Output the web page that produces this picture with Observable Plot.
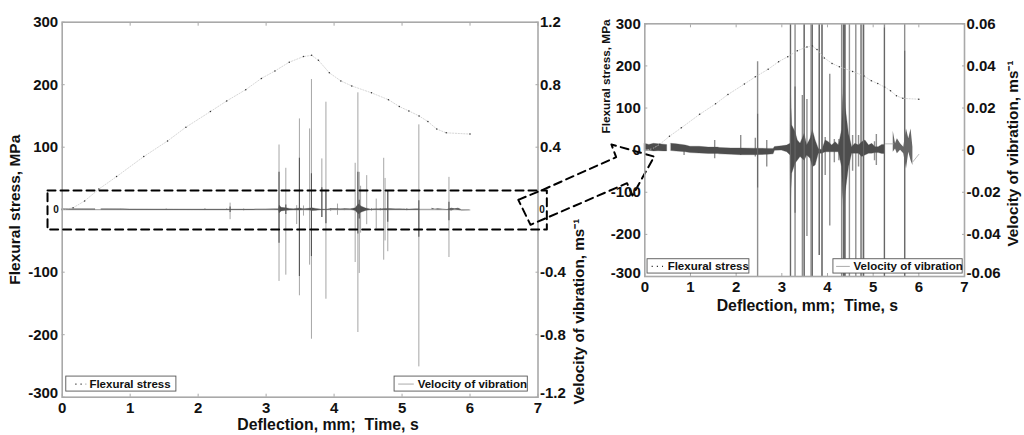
<!DOCTYPE html>
<html><head><meta charset="utf-8">
<script src="https://cdn.jsdelivr.net/npm/d3@7"></script>
<script src="https://cdn.jsdelivr.net/npm/@observablehq/plot@0.6"></script>
<style>
html,body{margin:0;background:#fff;overflow:hidden}
#wrap{position:relative;width:1024px;height:435px}
#wrap svg{position:absolute;left:0;top:0;background:transparent}
</style></head><body><div id="wrap"></div>
<script>
// Flexural stress (MPa) against deflection
const stressT=[0,.16,.33,.54,.80,1.20,1.55,1.82,2.18,2.42,2.70,2.93,3.13,3.34,3.55,3.67,3.77,3.93,4.10,4.26,4.55,4.80,4.96,5.10,5.25,5.38,5.51,5.65,6.0];
const stressV=[0,3,14,33,53,85,110,132,157,174,192,210,222,236,245,247,239,219,206,198,187,176,165,158,150,141,129,123,121];
// Vibration spikes (m/s): full extent
const spikeT=[.86,1.53,2.1,2.42,2.47,2.67,3.19,3.29,3.45,3.49,3.55,3.64,3.667,3.82,3.88,3.95,4.05,4.15,4.25,4.31,4.35,4.37,4.39,4.48,4.55,4.62,4.68,4.73,4.75,4.79,5.03,5.07,5.247,5.69];
const spikeUp=[.0022,.0046,.007,.0057,.042,.0046,.414,.265,.026,.581,.024,.517,.833,.325,.688,.006,.036,.005,.005,.297,.748,.239,.15,.218,.007,.068,.007,.329,.2,.122,.004,.0074,.543,.207];
const spikeDown=[-.0025,-.0041,-.0025,-.0033,-.064,-.008,-.459,-.419,-.095,-.551,-.041,-.355,-.829,-.05,-.573,-.012,-.036,-.006,-.005,-.338,-.786,-.408,-.15,-.096,-.01,-.124,-.008,-.323,-.2,-.269,-.005,-.0073,-1.006,-.306];
// Darker core of the strongest spikes
const coreT=[2.47,3.19,3.29,3.49,3.667,3.82,3.88,4.35,4.37,4.79,5.247,5.69];
const coreUp=[.017,.239,.03,.329,.23,.14,.12,.239,.06,.12,.058,.047];
const coreDown=[-.018,-.214,-.03,-.427,-.30,-.05,-.09,-.156,-.06,-.08,-.177,-.07];
// Envelope of the continuous vibration signal (NaN marks the break in the trace)
const bandT=[0,.1,.2,.3,.42,.49,.53,.58,.7,.9,1.0,1.2,1.4,1.6,1.65,1.9,2.1,2.4,2.7,2.82,2.85,3.0,3.117,3.19,3.2,3.227,3.30,3.35,3.41,3.50,3.555,3.63,3.68,3.74,3.81,3.885,3.96,4.03,4.10,4.18,4.25,4.32,4.34,4.37,4.40,4.47,4.54,4.61,4.69,4.76,4.83,4.91,4.98,5.05,5.12,5.2,5.26];
const bandHi=[.003,.0025,.003,.0028,.0026,.0024,NaN,.003,.0028,.0022,.0016,.0016,.0012,.0012,.001,.0008,.0008,.0007,.0006,.0006,.0015,.0018,.0022,.003,.027,.0117,.0085,.0046,.003,.0077,.0022,.0054,.0095,.0046,.0006,0,.0046,.0038,.0022,.0038,.0022,.0095,.022,.035,.02,.0077,.0014,.003,.0022,.0038,.0046,.0022,.003,.0014,.0014,.0025,.0025];
const bandLo=[-.0004,-.0003,-.0006,-.0005,-.0006,-.0006,NaN,-.0004,-.0007,-.001,-.0014,-.0016,-.0018,-.0018,-.002,-.0022,-.0024,-.0024,-.0022,-.002,-.0003,-.0002,-.001,-.0025,-.024,-.0112,-.0065,-.005,-.0033,-.005,-.0025,-.0041,-.0081,-.0073,-.0017,-.0017,-.001,-.001,-.001,-.001,-.001,-.0081,-.02,-.03,-.02,-.0081,-.0017,-.0017,-.0017,-.0033,-.0025,-.0017,-.0017,-.0014,-.0014,-.0018,-.0018];
const tailT=[5.44,5.49,5.53,5.6,5.67,5.73,5.78,5.83,5.87];
const tailHi=[.009,.003,.0054,.003,.0014,.010,.0054,.010,.0014];
const tailLo=[-.001,.0006,-.0017,0,-.0017,-.0089,-.001,-.005,-.0073];
const linkT=[5.27,5.44], linkV=[.003,.003];
const endT=[5.87,6.0], endV=[-.0055,-.002];
// Labels
const xTicks=[0,1,2,3,4,5,6,7];
const stressTicksLeft=[-300,-200,-100,100,200,300];
const stressTicksRight=[-300,-200,-100,0,100,200,300];
const xTitle="Deflection, mm;\u00a0\u00a0Time, s", yTitle="Flexural stress, MPa", vTitle="Velocity of vibration, ms\u207b\u00b9";
const names=["Flexural stress","Velocity of vibration"];
// Zoom outline and arrow, in the units of the main panel's axes
const boxX=[-.216,7.13,7.13,-.216,-.216], boxY=[30.7,30.7,-31.7,-31.7,30.7];
const arrowX=[6.71,7.07,8.15,8.08,8.71,8.39,8.31,6.89,6.71];
const arrowY=[15.8,31.8,84,104.3,85,22.7,42.4,-24.2,15.8];

const idx=a=>a.map((_,i)=>i);
const font={fontFamily:"'Liberation Sans',Arial,sans-serif",fontWeight:"bold",fontSize:"14.5px",color:"#111",background:"transparent"};
const spine="#a9a9a9";

function panel(o){
  const k=o.k, clip=o.clip, L=o.legend, T=o.titles;
  const lowLabel=o.rf(-300);
  return Plot.plot({
    width:1024,height:435,
    marginLeft:o.ml,marginRight:1024-o.xr,marginTop:o.mt,marginBottom:435-o.yb,
    x:{domain:[0,7]},y:{domain:[-300,300]},
    style:font,
    marks:[
      ...(o.base?[Plot.ruleY([0],{x1:0,x2:6,stroke:"#999",strokeWidth:o.base})]:[]),
      Plot.ruleX(idx(spikeT),{x:i=>spikeT[i],y1:i=>spikeDown[i]*k,y2:i=>spikeUp[i]*k,stroke:o.light,strokeWidth:o.sw,clip}),
      Plot.areaY(idx(bandT),{x:i=>bandT[i],y1:i=>bandLo[i]*k,y2:i=>bandHi[i]*k,fill:"#4d4d4d",stroke:"#4d4d4d",strokeWidth:.3,curve:"linear"}),
      Plot.areaY(idx(tailT),{x:i=>tailT[i],y1:i=>tailLo[i]*k,y2:i=>tailHi[i]*k,fill:"#666",curve:"linear"}),
      Plot.line(idx(linkT),{x:i=>linkT[i],y:i=>linkV[i]*k,stroke:"#aaa",strokeWidth:.8}),
      Plot.line(idx(endT),{x:i=>endT[i],y:i=>endV[i]*k,stroke:"#aaa",strokeWidth:.8}),
      Plot.ruleX(idx(coreT),{x:i=>coreT[i],y1:i=>coreDown[i]*k,y2:i=>coreUp[i]*k,stroke:o.core,strokeWidth:1.1,clip}),
      Plot.line(idx(stressT),{x:i=>stressT[i],y:i=>stressV[i],stroke:"#c4c4c4",strokeWidth:.7,strokeDasharray:"1.2,1.6"}),
      Plot.dot(idx(stressT),{x:i=>stressT[i],y:i=>stressV[i],r:.75,fill:"#333"}),
      Plot.frame({stroke:spine,strokeWidth:1.6}),
      Plot.axisX({anchor:"bottom",ticks:xTicks,tickFormat:d=>String(d),tickSize:-3,tickPadding:8,stroke:spine,fontSize:15,label:null}),
      Plot.axisX({anchor:"top",ticks:xTicks,tickSize:-3,tickFormat:()=>"",stroke:spine,label:null}),
      Plot.axisY({anchor:"left",ticks:o.lt,tickFormat:d=>d===-300?"":String(d),tickSize:-3,tickPadding:7,stroke:spine,fontSize:15,label:null}),
      Plot.axisY({anchor:"right",ticks:o.lt,tickSize:-3,tickPadding:5,stroke:spine,fontSize:15,tickFormat:d=>d===-300?"":o.rf(d),label:null}),
      Plot.text([-300],{x:0,y:-300,dx:-4,dy:o.lowDy,text:d=>String(d),textAnchor:"end",fontSize:15,fontWeight:"bold"}),
      Plot.text([lowLabel],{x:7,y:-300,dx:2,dy:o.lowDy,text:d=>d,textAnchor:"start",fontSize:15,fontWeight:"bold"}),
      Plot.text([xTitle],{x:T.xx,y:T.xy,text:d=>d,fontSize:15.8,fontWeight:"bold"}),
      Plot.text([yTitle],{x:T.yx,y:T.yy,rotate:-90,text:d=>d,fontSize:T.ys,fontWeight:"bold"}),
      Plot.text([vTitle],{x:T.vx,y:T.vy,rotate:-90,text:d=>d,fontSize:15.3,fontWeight:"bold"}),
      ...(o.extra||[]),
      Plot.rect([0],{x1:L.ax1,x2:L.ax2,y1:L.y1,y2:L.y2,fill:"#fff",stroke:"#555",strokeWidth:.9}),
      Plot.rect([0],{x1:L.bx1,x2:L.bx2,y1:L.y1,y2:L.y2,fill:"#fff",stroke:"#555",strokeWidth:.9}),
      Plot.ruleY([L.yc],{x1:L.as1,x2:L.as2,stroke:"#333",strokeWidth:1.1,strokeDasharray:"1.2,4"}),
      Plot.ruleY([L.yc],{x1:L.bs1,x2:L.bs2,stroke:"#aaa",strokeWidth:1}),
      Plot.text([names[0]],{x:L.at,y:L.yc,text:d=>d,textAnchor:"start",fontSize:11.5,fontWeight:"bold"}),
      Plot.text([names[1]],{x:L.bt,y:L.yc,text:d=>d,textAnchor:"start",fontSize:11.5,fontWeight:"bold"})
    ]
  });
}
const mainExtra=[
  Plot.text([0],{x:-.09,y:0,text:d=>String(d),fontSize:10,fontWeight:"bold",textAnchor:"middle"}),
  Plot.text([0],{x:7.06,y:0,text:d=>String(d),fontSize:10,fontWeight:"bold",textAnchor:"middle"}),
  Plot.line(idx(boxX),{x:i=>boxX[i],y:i=>boxY[i],stroke:"#000",strokeWidth:2,strokeDasharray:"8,5"}),
  Plot.line(idx(arrowX),{x:i=>arrowX[i],y:i=>arrowY[i],stroke:"#000",strokeWidth:2,strokeDasharray:"8,5"})
];
const wrap=document.getElementById("wrap");
wrap.append(panel({
  k:250,clip:false,ml:61.7,xr:537.5,mt:21.7,yb:396.7,light:"#a6a6a6",core:"#555",sw:1,base:1,lowDy:-4,
  lt:stressTicksLeft,rf:d=>String(d/250),
  titles:{xx:3.91,xy:-344,yx:-.69,yy:0,ys:15.5,vx:7.6,vy:-163},
  extra:mainExtra,
  legend:{ax1:.06,ax2:1.68,bx1:4.89,bx2:6.85,y1:-267,y2:-291,yc:-279,as1:.2,as2:.36,bs1:4.95,bs2:5.18,at:.4,bt:5.23}
}));
wrap.append(panel({
  k:5000,clip:true,ml:644.3,xr:964,mt:23.3,yb:276,light:"#8f8f8f",core:"#666",sw:1.4,base:0,lowDy:-3,
  lt:stressTicksRight,rf:d=>d===0?"0":(d/5000).toFixed(2),
  titles:{xx:3.56,xy:-369,yx:-.84,yy:175,ys:11.8,vx:8.07,vy:-8},
  legend:{ax1:.06,ax2:2.29,bx1:4.13,bx2:6.96,y1:-259,y2:-293,yc:-276,as1:.16,as2:.41,bs1:4.2,bs2:4.5,at:.5,bt:4.57}
}));
</script></body></html>
